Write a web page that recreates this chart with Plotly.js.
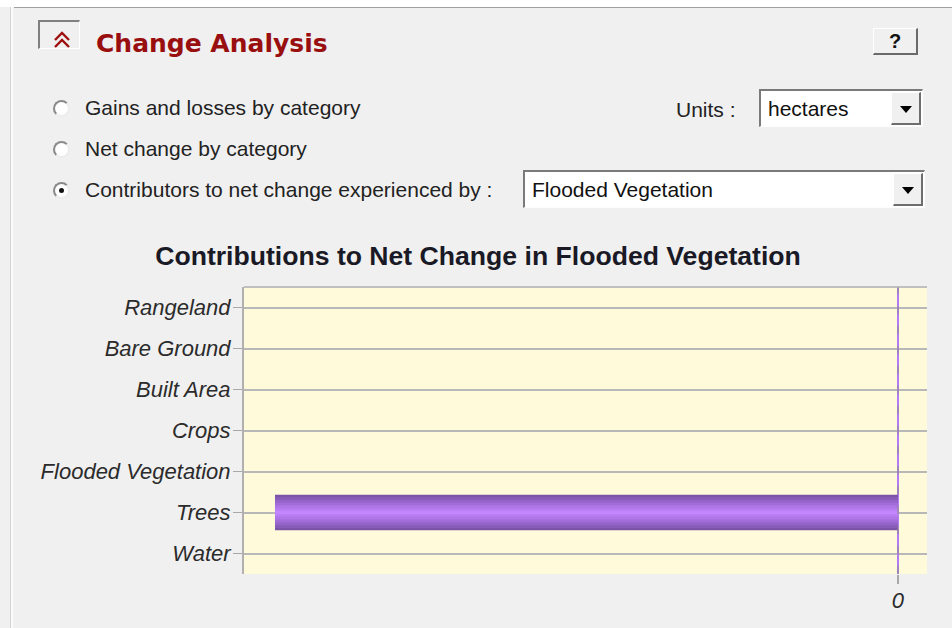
<!DOCTYPE html>
<html>
<head>
<meta charset="utf-8">
<script src="https://cdn.plot.ly/plotly-3.0.1.min.js"></script>
<style>
  html, body { margin:0; padding:0; background:#f0f0f0; }
  #wrap { position:relative; width:952px; height:628px; overflow:hidden; background:#f0f0f0; }
  #chart { position:absolute; left:0; top:0; width:952px; height:628px; }
  .ov { position:absolute; z-index:10; pointer-events:none; }
  .txt { font-family:"Liberation Sans", Arial, sans-serif; font-size:21px; color:#222; white-space:nowrap; line-height:24px; }
  .radio { width:13px; height:13px; border-radius:50%; background:#fff;
           border:2px solid; border-color:#8a8a8a #ececec #ececec #8a8a8a; }
  .dot { position:absolute; left:4px; top:4px; width:5px; height:5px; border-radius:50%; background:#111; }
  .combo { background:#fff; box-sizing:border-box;
           border-top:2px solid #7a7a7a; border-left:2px solid #7a7a7a;
           border-bottom:1px solid #fdfdfd; border-right:1px solid #fdfdfd; }
  .btn { position:absolute; top:1px; right:1px; bottom:1px; width:30px; background:#f0f0f0; box-sizing:border-box;
         border-top:1px solid #fff; border-left:1px solid #fff; border-bottom:2px solid #6e6e6e; border-right:2px solid #6e6e6e; }
  .tri { position:absolute; left:8px; top:13px; width:0; height:0;
         border-left:6px solid transparent; border-right:6px solid transparent; border-top:7px solid #000; }
</style>
</head>
<body>
<div id="wrap">
  <div id="chart"></div>

  <!-- window frame -->
  <div class="ov" style="left:0;top:0;width:952px;height:7px;background:#fff;"></div>
  <div class="ov" style="left:14px;top:7px;width:938px;height:1px;background:#a0a0a0;"></div>
  <div class="ov" style="left:10px;top:7px;width:1px;height:621px;background:#d4d4d4;"></div>
  <div class="ov" style="left:11px;top:7px;width:2px;height:621px;background:#fafafa;"></div>

  <!-- collapse icon -->
  <div class="ov" style="left:38px;top:20px;width:42px;height:29px;box-sizing:border-box;border-top:2px solid #808080;border-left:2px solid #808080;border-right:1px solid #fff;border-bottom:1px solid #fff;"></div>
  <svg class="ov" style="left:0;top:0;" width="120" height="60">
    <polyline points="55,40 62,33 69,40" fill="none" stroke="#a01010" stroke-width="2.4"/>
    <polyline points="55,47 62,40 69,47" fill="none" stroke="#a01010" stroke-width="2.4"/>
  </svg>
  <div class="ov" style="left:96px;top:29px;font-family:'DejaVu Sans',Verdana,sans-serif;font-weight:bold;font-size:25px;line-height:30px;color:#990f0f;white-space:nowrap;">Change Analysis</div>

  <!-- help button -->
  <div class="ov" style="left:873px;top:28px;width:45px;height:27px;box-sizing:border-box;border-top:1px solid #fff;border-left:1px solid #fff;border-bottom:2px solid #6a6a6a;border-right:2px solid #6a6a6a;background:#f0f0f0;">
    <div style="position:absolute;left:0;right:0;top:0;text-align:center;font-family:'Liberation Sans',Arial,sans-serif;font-weight:bold;font-size:20px;line-height:24px;color:#111;">?</div>
  </div>

  <!-- radio options -->
  <div class="ov radio" style="left:53px;top:100px;"></div>
  <div class="ov txt" style="left:85px;top:96px;">Gains and losses by category</div>
  <div class="ov radio" style="left:53px;top:141px;"></div>
  <div class="ov txt" style="left:85px;top:137px;">Net change by category</div>
  <div class="ov radio" style="left:53px;top:182px;"><div class="dot"></div></div>
  <div class="ov txt" style="left:85px;top:178px;">Contributors to net change experienced by :</div>

  <!-- units -->
  <div class="ov txt" style="left:676px;top:98px;">Units :</div>
  <div class="ov combo" style="left:759px;top:89px;width:164px;height:38px;">
    <div class="txt" style="position:absolute;left:7px;top:6px;color:#111;">hectares</div>
    <div class="btn"><div class="tri"></div></div>
  </div>

  <!-- category select -->
  <div class="ov combo" style="left:523px;top:170px;width:402px;height:38px;">
    <div class="txt" style="position:absolute;left:7px;top:6px;color:#111;">Flooded Vegetation</div>
    <div class="btn"><div class="tri"></div></div>
  </div>
</div>

<script>
// ---- data ----
const categories = ["Rangeland", "Bare Ground", "Built Area", "Crops", "Flooded Vegetation", "Trees", "Water"];
const netChange = [0, 0, 0, 0, 0, -100, 0];   // hectares (axis shows only the 0 tick)
const xTickValues = [0];
const xTickLabels = ["0"];
const chartTitle = "Contributions to Net Change in Flooded Vegetation";

// ---- gradient layers for the cylinder-like bar ----
const layers = [
  {w: 0.87, c: "#7b53a7"},
  {w: 0.76, c: "#875bb8"},
  {w: 0.62, c: "#9564c9"},
  {w: 0.48, c: "#a26dd8"},
  {w: 0.34, c: "#ae76e6"},
  {w: 0.20, c: "#b97ef3"},
  {w: 0.08, c: "#c386fd"}
];

const traces = layers.map(L => ({
  type: "bar",
  orientation: "h",
  y: categories,
  x: netChange,
  width: L.w,
  marker: {color: L.c, line: {width: 0}},
  hoverinfo: "skip",
  showlegend: false
}));

const minV = Math.min(...netChange);
const span = Math.abs(minV);
const xRange = [minV - span * 0.0498, span * 0.0466];

const italic = {family: "Liberation Sans, Arial, sans-serif", size: 22, color: "#2b2b2b", style: "italic"};

const layout = {
  width: 952, height: 628,
  margin: {l: 244, r: 25, t: 287, b: 54, pad: 0},
  paper_bgcolor: "rgba(0,0,0,0)",
  plot_bgcolor: "#fffad9",
  barmode: "overlay",
  showlegend: false,
  title: {
    text: "<b>" + chartTitle + "</b>",
    xref: "container", yref: "container",
    x: 478 / 952, xanchor: "center",
    y: 1 - 256 / 628, yanchor: "middle",
    font: {family: "Liberation Sans, Arial, sans-serif", size: 26.6, color: "#1a1a26"}
  },
  xaxis: {
    range: xRange,
    tickmode: "array", tickvals: xTickValues, ticktext: xTickLabels,
    ticks: "outside", ticklen: 9, tickwidth: 1.5, tickcolor: "#a8a8a8",
    showgrid: false, showline: false,
    zeroline: true, zerolinecolor: "#b47cf2", zerolinewidth: 2,
    tickfont: italic, ticklabelstandoff: -2, fixedrange: true
  },
  yaxis: {
    type: "category",
    categoryorder: "array", categoryarray: categories,
    autorange: "reversed",
    ticks: "outside", ticklen: 9, tickwidth: 1.5, tickcolor: "#a8a8a8",
    showgrid: true, gridcolor: "#b8b8b8", gridwidth: 2,
    showline: true, linecolor: "#b0b0b0", linewidth: 2,
    zeroline: false,
    tickfont: italic, ticklabelstandoff: -2, fixedrange: true
  },
  shapes: [
    {type: "line", xref: "paper", yref: "paper", x0: 0, x1: 1, y0: 1, y1: 1,
     line: {color: "#c0c0c0", width: 2}},
    {type: "line", xref: "x", yref: "paper", x0: 0, x1: 0, y0: 0, y1: 1,
     line: {color: "#8c8c8c", width: 1, dash: "8px,12px"}}
  ]
};

Plotly.newPlot("chart", traces, layout, {displayModeBar: false, staticPlot: true});
</script>
</body>
</html>
